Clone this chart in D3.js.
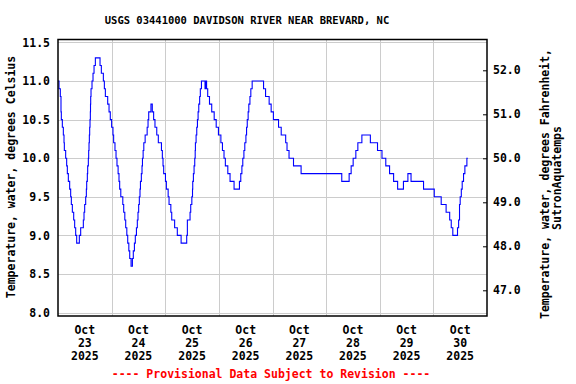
<!DOCTYPE html>
<html>
<head>
<meta charset="utf-8">
<script src="https://cdn.jsdelivr.net/npm/d3@7/dist/d3.min.js"></script>
<style>
  html, body { margin: 0; padding: 0; background: #fff; }
  svg { display: block; font-family: "DejaVu Sans Mono", monospace; font-weight: bold; }
</style>
</head>
<body>
<svg id="chart" width="576" height="384"></svg>
<script>
// ---- data (hours after 2025-10-23 00:00, water temperature °C at each step) ----
const stepHours = [0,0.45,1.04,1.34,1.49,1.94,2.39,2.69,2.84,3.43,3.88,4.18,4.63,5.22,5.67,5.97,6.42,7.02,7.46,7.91,8.36,
  9.55,10.15,11.34,11.64,11.94,12.39,12.69,12.84,13.13,13.28,13.58,13.73,13.88,14.03,14.18,14.33,14.48,14.55,14.63,14.78,15.22,15.67,16.13,16.72,
  18.81,19.4,20.3,20.75,21.2,22.24,22.84,23.4,24.0,24.6,24.9,25.5,25.97,26.4,26.9,27.3,27.6,28.1,29.0,29.4,29.9,30.3,30.8,31.2,31.7,32.1,32.7,
  33.3,33.7,34.2,34.6,35.1,35.5,35.8,36.1,36.4,36.7,36.9,37.3,37.6,37.8,38.1,38.4,39.0,39.9,40.3,40.6,41.6,
  42.2,42.8,43.4,44.2,44.9,46.3,46.7,47.0,47.3,48.1,48.5,49.3,49.7,50.5,50.9,52.2,53.4,55.1,
  57.6,57.9,59.1,59.4,59.9,60.2,60.3,60.6,60.9,61.2,61.4,61.5,61.8,62.1,62.4,62.7,63.0,63.4,63.7,64.2,
  65.8,66.2,66.5,67.0,67.8,68.8,69.9,70.8,71.8,72.9,73.6,74.3,74.9,76.0,77.0,78.8,
  81.2,81.8,82.3,82.7,83.2,83.6,84.1,84.4,84.7,85.1,85.4,85.9,86.3,86.9,
  92.0,92.9,94.5,95.4,96.4,98.7,99.9,101.9,102.5,103.4,105.4,108.8,
  127.0,130.3,131.2,132.1,133.3,134.2,136.0,
  139.8,143.0,145.0,146.7,148.4,150.2,152.0,154.6,156.6,158.0,163.6,168.4,171.5,173.7,175.3,176.0,176.7,
  178.8,179.3,179.7,180.0,180.5,180.9,181.5,182.1,183.0,183.4];
const stepValues = [11.0,10.9,10.8,10.6,10.5,10.4,10.3,10.2,10.1,10.0,9.9,9.8,9.7,9.6,9.5,9.4,9.3,9.2,9.1,9.0,8.9,
  9.0,9.1,9.2,9.3,9.4,9.5,9.6,9.7,9.8,9.9,10.0,10.1,10.2,10.3,10.4,10.5,10.6,10.7,10.8,10.9,11.0,11.1,11.2,11.3,
  11.2,11.1,11.0,10.9,10.8,10.7,10.6,10.5,10.4,10.3,10.2,10.1,10.0,9.9,9.8,9.7,9.6,9.5,9.4,9.3,9.2,9.1,9.0,8.9,8.8,8.7,8.6,
  8.7,8.8,8.9,9.0,9.1,9.2,9.3,9.4,9.5,9.6,9.7,9.8,9.9,10.0,10.1,10.2,10.3,10.4,10.5,10.6,10.7,
  10.6,10.5,10.4,10.3,10.2,10.1,10.0,9.9,9.8,9.7,9.6,9.5,9.4,9.3,9.2,9.1,9.0,8.9,
  9.0,9.2,9.3,9.4,9.5,9.6,9.7,9.8,9.9,10.0,10.1,10.2,10.3,10.4,10.5,10.6,10.7,10.8,10.9,11.0,
  10.9,11.0,10.9,10.8,10.7,10.6,10.5,10.4,10.3,10.2,10.1,10.0,9.9,9.8,9.7,9.6,
  9.7,9.8,9.9,10.0,10.1,10.2,10.3,10.4,10.5,10.6,10.7,10.8,10.9,11.0,
  10.9,10.8,10.7,10.6,10.5,10.4,10.3,10.2,10.1,10.0,9.9,9.8,
  9.7,9.8,9.9,10.0,10.1,10.2,10.3,
  10.2,10.1,10.0,9.9,9.8,9.7,9.6,9.7,9.8,9.7,9.6,9.5,9.4,9.3,9.2,9.1,9.0,
  9.1,9.2,9.4,9.5,9.6,9.7,9.8,9.9,10.0,10.0];

const celsiusTicks = [8.0, 8.5, 9.0, 9.5, 10.0, 10.5, 11.0, 11.5];
const fahrenheitTicks = [47.0, 48.0, 49.0, 50.0, 51.0, 52.0];
const dayLabels = ["23", "24", "25", "26", "27", "28", "29", "30"];
const monthLabel = "Oct";
const yearLabel = "2025";
const titleText = "USGS 03441000 DAVIDSON RIVER NEAR BREVARD, NC";
const leftTitle = "Temperature, water, degrees Celsius";
const rightTitle1 = "Temperature, water, degrees Fahrenheit,";
const rightTitle2 = "SutronAquatemps";
const footerText = "---- Provisional Data Subject to Revision ----";

// ---- layout ----
const L = 58, R = 487, T = 39.5, B = 316;
const base = new Date(2025, 9, 23, 0, 0);
const data = stepHours.map((h, i) => ({ t: new Date(base.getTime() + h * 3600e3), v: stepValues[i] }));

const svg = d3.select("#chart");

const x = d3.scaleTime().domain([new Date(2025, 9, 23), new Date(2025, 9, 31)]).range([L, R]);
const y = d3.scaleLinear().domain([7.956, 11.5376]).range([B, T]);
const yF = d3.scaleLinear().domain([46.416, 52.70]).range([B, T]);

// grid
const grid = svg.append("g").attr("stroke", "#cccccc").attr("stroke-width", 1);
celsiusTicks.forEach(c => {
  const yy = Math.round(y(c)) + 0.5;
  grid.append("line").attr("x1", L).attr("x2", R).attr("y1", yy).attr("y2", yy);
});
d3.timeDay.range(new Date(2025, 9, 24), new Date(2025, 9, 31)).forEach(d => {
  const xx = Math.round(x(d)) + 0.5;
  grid.append("line").attr("x1", xx).attr("x2", xx).attr("y1", T).attr("y2", B);
});

// clip + line
svg.append("clipPath").attr("id", "clip").append("rect")
  .attr("x", L).attr("y", T).attr("width", R - L).attr("height", B - T);
const line = d3.line().x(d => x(d.t)).y(d => y(d.v)).curve(d3.curveStepAfter);
svg.append("path").datum(data)
  .attr("clip-path", "url(#clip)")
  .attr("fill", "none").attr("stroke", "#0000ff").attr("stroke-width", 1.1)
  .attr("d", line);

// frame
svg.append("rect").attr("x", L).attr("y", T).attr("width", R - L).attr("height", B - T)
  .attr("fill", "none").attr("stroke", "#000").attr("stroke-width", 1.5);

// left axis
const leftAxis = svg.append("g").attr("transform", `translate(${L},0)`)
  .call(d3.axisLeft(y).tickValues(celsiusTicks).tickSize(0).tickPadding(8).tickFormat(d3.format(".1f")));
leftAxis.select(".domain").remove();
leftAxis.selectAll("text").attr("font-size", 11.5).attr("font-family", "DejaVu Sans Mono").attr("font-weight", "bold").attr("fill", "#000");

// right axis
const rightAxis = svg.append("g").attr("transform", `translate(${R},0)`)
  .call(d3.axisRight(yF).tickValues(fahrenheitTicks).tickSize(-4).tickPadding(6).tickFormat(d3.format(".1f")));
rightAxis.select(".domain").remove();
rightAxis.selectAll("line").attr("stroke", "#000");
rightAxis.selectAll("text").attr("font-size", 11.5).attr("font-family", "DejaVu Sans Mono").attr("font-weight", "bold").attr("fill", "#000");

// x labels (centered at noon of each day)
const xl = svg.append("g").attr("font-size", 11.5).attr("text-anchor", "middle").attr("fill", "#000");
dayLabels.forEach((dl, i) => {
  const cx = x(new Date(2025, 9, 23 + i, 12));
  xl.append("text").attr("x", cx).attr("y", 334).text(monthLabel);
  xl.append("text").attr("x", cx).attr("y", 347).text(dl);
  xl.append("text").attr("x", cx).attr("y", 359.5).text(yearLabel);
});

// title
svg.append("text").attr("x", 247).attr("y", 24).attr("text-anchor", "middle")
  .attr("font-size", 10.5).text(titleText);

// axis titles
svg.append("text").attr("transform", "translate(15,177) rotate(-90)").attr("text-anchor", "middle")
  .attr("font-size", 11.5).text(leftTitle);
svg.append("text").attr("transform", "translate(548.5,184) rotate(-90)").attr("text-anchor", "middle")
  .attr("font-size", 11.5).text(rightTitle1);
svg.append("text").attr("transform", "translate(561,178) rotate(-90)").attr("text-anchor", "middle")
  .attr("font-size", 11.5).text(rightTitle2);

// footer
svg.append("text").attr("x", 271).attr("y", 378).attr("text-anchor", "middle")
  .attr("font-size", 11.5).attr("fill", "#ff0000").text(footerText);
</script>
</body>
</html>
